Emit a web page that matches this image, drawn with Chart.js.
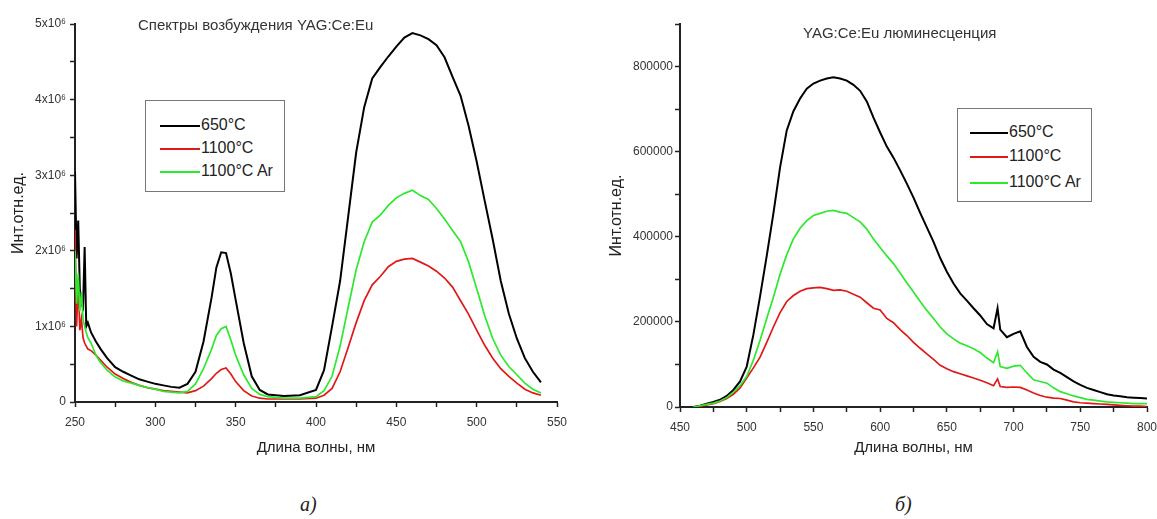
<!DOCTYPE html>
<html>
<head>
<meta charset="utf-8">
<script src="https://cdn.jsdelivr.net/npm/chart.js"></script>
<style>
  body { margin: 0; background: #fff; }
  #wrap { position: relative; width: 1157px; height: 519px; font-family: "Liberation Sans", Arial, sans-serif; color: #222; }
  canvas { position: absolute; top: 0; }
  .ttl { position: absolute; font-size: 15px; white-space: nowrap; color: #333; }
  .leg { position: absolute; border: 1.5px solid #777; background: #fff; }
  .row { position: absolute; font-size: 16px; white-space: nowrap; line-height: 18px; }
  .row span { display: inline-block; width: 40px; height: 2px; vertical-align: middle; margin-right: 1px; }
  .cap { position: absolute; font-family: "Liberation Serif", "Times New Roman", serif; font-style: italic; font-size: 20px; }
</style>
</head>
<body>
<div id="wrap">
  <canvas id="exc" width="578" height="470" style="left:0px"></canvas>
  <canvas id="lum" width="577" height="470" style="left:580px"></canvas>

  <div class="ttl" style="left:138px; top:16px">Спектры возбуждения YAG:Ce:Eu</div>
  <div class="ttl" style="left:803px; top:24px">YAG:Ce:Eu люминесценция</div>

  <div class="leg" style="left:145px; top:100px; width:138px; height:90px">
    <div class="row" style="left:14px; top:15px"><span style="background:#000"></span>650°C</div>
    <div class="row" style="left:14px; top:38px"><span style="background:#e01818"></span>1100°C</div>
    <div class="row" style="left:14px; top:61px"><span style="background:#2ee82e"></span>1100°C Ar</div>
  </div>
  <div class="leg" style="left:957px; top:108px; width:133px; height:92px">
    <div class="row" style="left:12px; top:14px"><span style="width:38px; background:#000"></span>650°C</div>
    <div class="row" style="left:12px; top:38px"><span style="width:38px; background:#e01818"></span>1100°C</div>
    <div class="row" style="left:12px; top:64px"><span style="width:38px; background:#2ee82e"></span>1100°C Ar</div>
  </div>

  <div class="cap" style="left:300px; top:493px">а)</div>
  <div class="cap" style="left:895px; top:493px">б)</div>
</div>

<script>
// excitation spectra, wavelength in nm, intensity in units of 1e6
const excWave = [250, 251, 252, 253, 254, 255, 256, 257, 258, 260, 263, 266, 270, 275, 280, 285, 290, 295, 300, 305,
  310, 315, 320, 325, 330, 335, 338, 341, 344, 347, 350, 355, 360, 365, 370, 380, 390, 400, 405, 410,
  415, 420, 425, 430, 435, 440, 445, 450, 455, 460, 465, 470, 475, 480, 485, 490, 495, 500, 505, 510,
  515, 520, 525, 530, 535, 540]
const exc650 = [3.05, 1.9, 2.4, 1.5, 1.3, 1.25, 2.05, 1.0, 1.05, 0.92, 0.8, 0.7, 0.58, 0.46, 0.40, 0.35, 0.30, 0.27, 0.24, 0.22,
  0.20, 0.19, 0.24, 0.40, 0.80, 1.38, 1.78, 1.98, 1.97, 1.70, 1.35, 0.78, 0.34, 0.16, 0.10, 0.08, 0.09, 0.16, 0.42, 1.0,
  1.6, 2.45, 3.3, 3.9, 4.28, 4.43, 4.57, 4.70, 4.82, 4.88, 4.85, 4.80, 4.72, 4.56, 4.30, 4.05, 3.65, 3.18, 2.66, 2.15,
  1.60, 1.17, 0.84, 0.58, 0.40, 0.26]
const exc1100 = [2.28, 1.0, 1.6, 0.95, 1.1, 0.85, 0.78, 0.74, 0.70, 0.68, 0.62, 0.55, 0.46, 0.37, 0.31, 0.26, 0.22, 0.19, 0.17, 0.15,
  0.14, 0.13, 0.12, 0.15, 0.21, 0.31, 0.38, 0.43, 0.45, 0.37, 0.27, 0.15, 0.08, 0.05, 0.04, 0.04, 0.04, 0.05, 0.09, 0.18,
  0.40, 0.72, 1.05, 1.34, 1.55, 1.66, 1.79, 1.86, 1.89, 1.90, 1.85, 1.80, 1.73, 1.64, 1.52, 1.34, 1.16, 0.95, 0.75, 0.58,
  0.44, 0.34, 0.25, 0.17, 0.12, 0.09]
const exc1100Ar = [2.0, 1.3, 1.7, 1.2, 1.45, 1.1, 1.0, 0.92, 0.85, 0.78, 0.62, 0.52, 0.42, 0.33, 0.28, 0.25, 0.22, 0.19, 0.17, 0.14,
  0.13, 0.12, 0.14, 0.24, 0.44, 0.70, 0.88, 0.97, 1.00, 0.82, 0.62, 0.36, 0.18, 0.10, 0.07, 0.05, 0.05, 0.07, 0.15, 0.34,
  0.74, 1.25, 1.75, 2.12, 2.38, 2.47, 2.60, 2.70, 2.76, 2.80, 2.73, 2.68, 2.56, 2.42, 2.27, 2.12, 1.85, 1.50, 1.14, 0.84,
  0.62, 0.47, 0.36, 0.25, 0.17, 0.12]

// luminescence, intensity in thousands
const lumWave = [460, 465, 470, 475, 480, 485, 490, 495, 500, 505, 510, 515, 520, 525, 530, 535, 540, 545, 550, 555,
  560, 565, 570, 575, 580, 585, 590, 595, 600, 605, 610, 615, 620, 625, 630, 635, 640, 645, 650, 655,
  660, 665, 670, 675, 680, 685, 688, 690, 695, 700, 705, 710, 715, 720, 725, 730, 735, 740, 745, 750,
  755, 760, 765, 770, 775, 780, 785, 790, 795, 800]
const lum650 = [0, 3, 8, 12, 17, 26, 40, 60, 95, 170, 260, 355, 455, 563, 650, 695, 725, 748, 760, 767,
  772, 775, 772, 767, 757, 743, 718, 680, 645, 612, 586, 556, 525, 492, 456, 422, 388, 350, 318, 290,
  267, 250, 232, 215, 195, 185, 232, 182, 164, 172, 178, 141, 118, 106, 100, 88, 80, 70, 60, 52,
  45, 40, 35, 30, 27, 25, 23, 22, 21, 20]
const lum1100 = [0, 2, 5, 8, 13, 20, 30, 45, 68, 92, 117, 152, 188, 222, 248, 262, 272, 278, 280, 281,
  278, 274, 275, 272, 265, 258, 245, 232, 228, 208, 198, 182, 168, 152, 138, 125, 112, 98, 90, 83,
  78, 73, 68, 63, 57, 50, 66, 48, 46, 47, 46, 40, 33, 27, 23, 21, 20, 16, 12, 10,
  9, 8, 7, 6, 5, 4, 3, 2, 2, 1]
const lum1100Ar = [0, 3, 6, 9, 14, 22, 35, 50, 72, 110, 157, 208, 258, 312, 358, 395, 420, 438, 450, 455,
  460, 462, 458, 455, 445, 435, 418, 395, 375, 355, 337, 315, 292, 270, 248, 227, 208, 188, 172, 160,
  150, 144, 137, 128, 115, 104, 130, 95, 91, 96, 98, 80, 64, 60, 56, 45, 36, 31, 26, 22,
  18, 16, 14, 12, 11, 10, 9, 8, 8, 8]

const seriesNames = ["650°C", "1100°C", "1100°C Ar"]
const seriesColors = ["#000000", "#e01818", "#2ee82e"]

const tickFont = { family: "'Liberation Sans', Arial, sans-serif", size: 12 }

function points(xs, ys, k) {
  return xs.map((x, i) => ({ x: x, y: ys[i] * k }))
}

function makeSets(xs, list, k) {
  return list.map((ys, i) => ({
    label: seriesNames[i],
    data: points(xs, ys, k),
    borderColor: seriesColors[i],
    borderWidth: i == 0 ? 2 : 1.7,
    pointRadius: 0,
    tension: 0,
    order: 3 - i
  }))
}

function axisX(min, max, h, padRight) {
  return {
    type: "linear", min: min, max: max,
    afterFit: s => {
      s.height = h
      if (padRight != null) s.paddingRight = padRight
    },
    border: { display: true, color: "#222", width: 2 },
    grid: { drawOnChartArea: false, drawTicks: true, tickLength: 5, tickWidth: 1.5, tickColor: "#222" },
    ticks: {
      stepSize: 25, autoSkip: false, maxRotation: 0, padding: 8, color: "#333", font: tickFont,
      callback: v => v % 50 == 0 ? String(v) : ""
    },
    title: { display: true, text: "Длина волны, нм", color: "#222", font: { family: "'Liberation Sans', Arial, sans-serif", size: 15 }, padding: { top: 0, bottom: 13 } }
  }
}

function axisY(max, step, w, titlePad, pad, cb) {
  return {
    type: "linear", min: 0, max: max,
    afterFit: s => { s.width = w },
    border: { display: true, color: "#222", width: 2 },
    grid: { drawOnChartArea: false, drawTicks: true, tickLength: 5, tickWidth: 1.5, tickColor: "#222" },
    ticks: { stepSize: step, autoSkip: false, padding: pad, color: "#333", font: tickFont, callback: cb },
    title: { display: true, text: "Инт.отн.ед.", color: "#222", font: { family: "'Liberation Sans', Arial, sans-serif", size: 16 }, padding: { top: titlePad, bottom: 0 } }
  }
}

new Chart(document.getElementById("exc"), {
  type: "line",
  data: { datasets: makeSets(excWave, [exc650, exc1100, exc1100Ar], 1e6) },
  options: {
    responsive: false, animation: false,
    layout: { padding: { left: 0, right: 21, top: 24, bottom: 0 } },
    plugins: { legend: { display: false }, tooltip: { enabled: false } },
    scales: {
      x: axisX(250, 550, 68),
      y: axisY(5e6, 5e5, 75, 9, 4, v => v == 0 ? "0" : (v % 1e6 == 0 ? (v / 1e6) + "x10⁶" : ""))
    }
  }
});

new Chart(document.getElementById("lum"), {
  type: "line",
  data: { datasets: makeSets(lumWave, [lum650, lum1100, lum1100Ar], 1000) },
  options: {
    responsive: false, animation: false,
    layout: { padding: { left: 0, right: 10, top: 24, bottom: 0 } },
    plugins: { legend: { display: false }, tooltip: { enabled: false } },
    scales: {
      x: axisX(450, 800, 63, 0),
      y: axisY(900000, 100000, 100, 27, 2, v => v % 200000 == 0 ? String(v) : "")
    }
  }
});
</script>
</body>
</html>
